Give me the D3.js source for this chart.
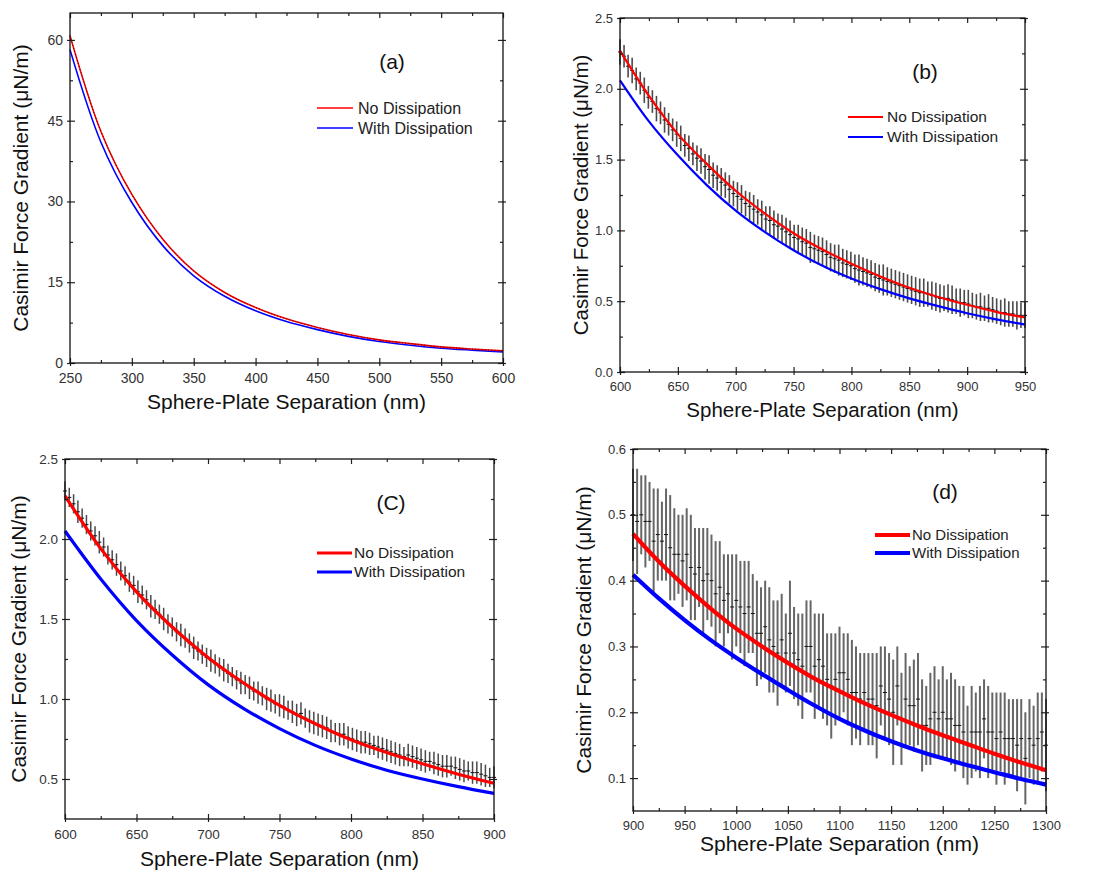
<!DOCTYPE html>
<meta charset="utf-8">
<title>Casimir Force Gradient</title>
<style>
body { margin: 0; background: #fff; }
text { font-family: "Liberation Sans", Arial, sans-serif; }
</style>
<svg width="1103" height="872"></svg>
<script src="https://d3js.org/d3.v7.min.js"></script>
<script>
// ---- data ----
// theory curves, one value every 25 nm
var sepA = [250, 275, 300, 325, 350, 375, 400, 425, 450, 475, 500, 525, 550, 575, 600];
var noDissA = [60.8, 43.0, 31.3, 23.0, 17.1, 13.1, 10.3, 8.2, 6.6, 5.3, 4.3, 3.6, 3.0, 2.6, 2.27];
var withDissA = [58.2, 41.0, 29.8, 21.8, 16.2, 12.4, 9.7, 7.7, 6.2, 4.95, 4.0, 3.3, 2.75, 2.38, 2.06];

var sepB = [600, 625, 650, 675, 700, 725, 750, 775, 800, 825, 850, 875, 900, 925, 950];
var noDissB = [2.27, 1.95, 1.68, 1.47, 1.28, 1.12, 0.98, 0.865, 0.765, 0.675, 0.595, 0.53, 0.475, 0.425, 0.385];
var withDissB = [2.06, 1.77, 1.53, 1.32, 1.14, 0.99, 0.86, 0.75, 0.66, 0.585, 0.52, 0.465, 0.415, 0.372, 0.335];

var sepC = [600, 625, 650, 675, 700, 725, 750, 775, 800, 825, 850, 875, 900];
var noDissC = [2.27, 1.94, 1.67, 1.45, 1.26, 1.10, 0.96, 0.845, 0.745, 0.665, 0.595, 0.53, 0.473];
var withDissC = [2.05, 1.75, 1.49, 1.275, 1.09, 0.94, 0.815, 0.71, 0.625, 0.555, 0.50, 0.452, 0.41];

var sepD = [900, 925, 950, 975, 1000, 1025, 1050, 1075, 1100, 1125, 1150, 1175, 1200, 1225, 1250, 1275, 1300];
var noDissD = [0.471, 0.429, 0.392, 0.358, 0.327, 0.300, 0.275, 0.252, 0.232, 0.213, 0.196, 0.180, 0.165, 0.151, 0.137, 0.124, 0.112];
var withDissD = [0.409, 0.373, 0.340, 0.310, 0.283, 0.258, 0.234, 0.211, 0.190, 0.172, 0.156, 0.142, 0.130, 0.119, 0.109, 0.099, 0.090];

// measured points with error bars (b: every 3.5 nm from 600, c: every 3 nm from 600, d: every 4 nm from 900)
var measB = [2.26,2.23,2.16,2.13,2.07, 2.04,1.99,1.94,1.91,1.86, 1.83,1.78,1.75,1.71,1.68, 1.65,1.60,1.58,1.54,1.51,
  1.49,1.45,1.43,1.39,1.37, 1.34,1.32,1.29,1.26,1.24, 1.22,1.19,1.17,1.15,1.13, 1.11,1.08,1.07,1.04,1.03,
  1.01,0.99,0.97,0.95,0.94, 0.92,0.91,0.88,0.87,0.86, 0.85,0.83,0.81,0.80,0.79, 0.77,0.76,0.75,0.73,0.72,
  0.71,0.70,0.69,0.67,0.66, 0.65,0.64,0.63,0.62,0.61, 0.60,0.59,0.58,0.57,0.56, 0.56,0.55,0.54,0.53,0.52,
  0.52,0.52,0.51,0.50,0.49, 0.49,0.48,0.47,0.46,0.46, 0.45,0.45,0.44,0.43,0.42, 0.42,0.41,0.41,0.40,0.40, 0.40];
var errB = [0.09,0.08,0.08,0.09,0.08,0.08,0.09,0.08,0.08,0.09,0.08,0.09,0.08,0.08,0.09,0.09,0.08,0.09,0.08,0.09,
  0.09,0.09,0.1,0.09,0.09,0.1,0.09,0.1,0.09,0.1,0.1,0.09,0.1,0.1,0.09,0.1,0.09,0.1,0.1,0.09,
  0.1,0.1,0.1,0.09,0.1,0.1,0.1,0.11,0.1,0.1,0.1,0.1,0.1,0.1,0.11,0.1,0.1,0.1,0.1,0.11,
  0.1,0.1,0.1,0.1,0.1,0.11,0.1,0.1,0.1,0.1,0.1,0.1,0.1,0.1,0.1,0.1,0.09,0.1,0.1,0.1,
  0.09,0.1,0.1,0.09,0.1,0.09,0.1,0.09,0.09,0.1,0.09,0.1,0.09,0.09,0.09,0.1,0.09,0.09,0.1,0.09,0.09];

var measC = [2.30,2.26,2.22,2.17,2.13, 2.09,2.05,2.02,1.98,1.95, 1.90,1.87,1.84,1.80,1.77, 1.73,1.71,1.67,1.65,1.62,
  1.58,1.56,1.53,1.50,1.47, 1.45,1.42,1.40,1.38,1.35, 1.32,1.30,1.28,1.26,1.24, 1.22,1.20,1.18,1.16,1.14,
  1.12,1.10,1.09,1.07,1.05, 1.04,1.02,1.00,0.99,0.97, 0.96,0.95,0.93,0.92,0.90, 0.91,0.88,0.86,0.85,0.84,
  0.83,0.82,0.80,0.79,0.78, 0.78,0.76,0.75,0.74,0.73, 0.73,0.72,0.71,0.70,0.69, 0.68,0.67,0.66,0.65,0.64,
  0.65,0.64,0.63,0.62,0.61, 0.61,0.60,0.59,0.58,0.58, 0.58,0.57,0.56,0.55,0.55, 0.54,0.54,0.53,0.52,0.51, 0.51];
var errC = [0.06,0.06,0.06,0.07,0.06,0.06,0.06,0.06,0.07,0.06,0.06,0.06,0.07,0.06,0.06,0.06,0.06,0.07,0.06,0.06,
  0.07,0.06,0.06,0.07,0.06,0.06,0.06,0.07,0.06,0.06,0.07,0.06,0.06,0.06,0.07,0.06,0.06,0.07,0.06,0.06,
  0.06,0.07,0.06,0.07,0.06,0.07,0.06,0.07,0.07,0.06,0.07,0.07,0.06,0.07,0.07,0.07,0.06,0.07,0.07,0.07,
  0.07,0.07,0.07,0.06,0.07,0.07,0.07,0.07,0.07,0.07,0.07,0.07,0.06,0.07,0.07,0.07,0.07,0.07,0.07,0.06,
  0.07,0.07,0.07,0.07,0.07,0.06,0.07,0.07,0.07,0.07,0.06,0.07,0.07,0.07,0.06,0.07,0.07,0.07,0.07,0.06,0.07];

var measD = [0.50,0.49,0.50,0.49,0.49, 0.46,0.47,0.46,0.47,0.45, 0.44,0.44,0.43,0.44,0.42, 0.41,0.42,0.40,0.41,0.40,
  0.38,0.39,0.37,0.38,0.36, 0.37,0.36,0.35,0.36,0.35, 0.32,0.32,0.33,0.31,0.30, 0.29,0.31,0.29,0.32,0.29,
  0.28,0.27,0.30,0.30,0.27, 0.28,0.27,0.25,0.24,0.25, 0.26,0.26,0.25,0.23,0.23, 0.22,0.23,0.22,0.22,0.21,
  0.24,0.23,0.22,0.20,0.24, 0.19,0.22,0.21,0.21,0.22, 0.18,0.18,0.19,0.20,0.19, 0.20,0.19,0.19,0.18,0.18,
  0.17,0.15,0.17,0.17,0.17, 0.19,0.17,0.17,0.16,0.17, 0.16,0.16,0.16,0.15,0.16, 0.13,0.16,0.15,0.16,0.17, 0.15];
var errD = [0.07,0.08,0.06,0.07,0.06,0.08,0.07,0.06,0.07,0.08,0.07,0.06,0.07,0.07,0.08,0.07,0.06,0.08,0.07,0.07,
  0.08,0.07,0.07,0.06,0.08,0.07,0.07,0.08,0.07,0.06,0.08,0.07,0.07,0.08,0.07,0.08,0.07,0.06,0.08,0.07,
  0.07,0.08,0.07,0.07,0.08,0.07,0.08,0.07,0.08,0.07,0.07,0.06,0.07,0.08,0.07,0.07,0.06,0.07,0.07,0.08,
  0.06,0.07,0.07,0.08,0.06,0.07,0.07,0.06,0.07,0.07,0.07,0.06,0.07,0.07,0.06,0.07,0.06,0.07,0.07,0.06,
  0.07,0.06,0.07,0.06,0.07,0.06,0.07,0.06,0.07,0.06,0.07,0.06,0.06,0.07,0.06,0.07,0.06,0.06,0.07,0.06,0.07];

var legendNames = ["No Dissipation", "With Dissipation"];
var xTitle = "Sphere-Plate Separation (nm)";
var yTitle = "Casimir Force Gradient (\u03bcN/m)";

var svg = d3.select("svg");
var fmt1 = d3.format(".1f");

var panels = [
  { tag: "(a)", box: [70, 503, 13, 363], xd: [250, 600], yd: [0, 65],
    xt: d3.range(250, 601, 50), xm: d3.range(275, 600, 50), yt: [0, 15, 30, 45, 60], ym: [7.5, 22.5, 37.5, 52.5],
    yf: d3.format("d"), sep: sepA, red: noDissA, blue: withDissA, dotted: true,
    lw: 1.6, tickFont: 14, titleFont: 21, yTitleX: 21, xTitleY: 409, tagPos: [392, 69],
    leg: [317, 353, 108, 128, 358, 16] },
  { tag: "(b)", box: [620, 1025, 18, 372], xd: [600, 950], yd: [0, 2.5],
    xt: d3.range(600, 951, 50), xm: d3.range(625, 950, 50), yt: [0, 0.5, 1, 1.5, 2, 2.5], ym: [0.25, 0.75, 1.25, 1.75, 2.25],
    yf: fmt1, sep: sepB, red: noDissB, blue: withDissB, bx0: 600, bstep: 3.5, meas: measB, err: errB,
    barColor: "#4a4a4a", barW: 1.6, lw: 2.2, tickFont: 13, titleFont: 20.5, yTitleX: 581, xTitleY: 417, tagPos: [925, 79],
    leg: [848, 883, 117, 137, 887, 15.5] },
  { tag: "(C)", box: [65, 494, 459, 819], xd: [600, 900], yd: [0.25, 2.5],
    xt: d3.range(600, 901, 50), xm: d3.range(625, 900, 50), yt: [0.5, 1, 1.5, 2, 2.5], ym: [0.75, 1.25, 1.75, 2.25],
    yf: fmt1, sep: sepC, red: noDissC, blue: withDissC, bx0: 600, bstep: 3, meas: measC, err: errC,
    barColor: "#4a4a4a", barW: 1.5, lw: 3.2, tickFont: 13.5, titleFont: 21, yTitleX: 19, xTitleY: 866, tagPos: [391, 510],
    leg: [317, 352, 553, 572, 354, 15.5] },
  { tag: "(d)", box: [633, 1046, 449, 811], xd: [900, 1300], yd: [0.05, 0.6],
    xt: d3.range(900, 1301, 50), xm: d3.range(925, 1300, 50), yt: [0.1, 0.2, 0.3, 0.4, 0.5, 0.6], ym: [0.15, 0.25, 0.35, 0.45, 0.55],
    yf: fmt1, sep: sepD, red: noDissD, blue: withDissD, bx0: 900, bstep: 4, meas: measD, err: errD,
    barColor: "#666", barW: 2, lw: 4.2, tickFont: 13, titleFont: 21, yTitleX: 584, xTitleY: 851, tagPos: [945, 499],
    leg: [875, 910, 535, 553, 912, 15] }
];

panels.forEach(drawPanel);

function drawPanel(p) {
  var L = p.box[0], R = p.box[1], T = p.box[2], B = p.box[3];
  var g = svg.append("g");
  var x = d3.scaleLinear().domain(p.xd).range([L, R]);
  var y = d3.scaleLinear().domain(p.yd).range([B, T]);

  // error bars of the measurement
  if (p.meas) {
    var pts = p.meas.map(function(v, i) { return { x: p.bx0 + p.bstep * i, v: v, e: p.err[i] }; });
    g.append("g").selectAll("line").data(pts).enter().append("line")
      .attr("x1", function(d) { return x(d.x); })
      .attr("x2", function(d) { return x(d.x); })
      .attr("y1", function(d) { return y(d.v - d.e); })
      .attr("y2", function(d) { return y(d.v + d.e); })
      .attr("stroke", p.barColor)
      .attr("stroke-width", p.barW);
    g.append("g").selectAll("line").data(pts).enter().append("line")
      .attr("x1", function(d) { return x(d.x) - 2; })
      .attr("x2", function(d) { return x(d.x) + 2; })
      .attr("y1", function(d) { return y(d.v); })
      .attr("y2", function(d) { return y(d.v); })
      .attr("stroke", "#111")
      .attr("stroke-width", 1);
  }

  var line = d3.line()
    .x(function(d) { return x(d[0]); })
    .y(function(d) { return y(d[1]); })
    .curve(d3.curveCatmullRom.alpha(0.5));

  g.append("path").datum(d3.zip(p.sep, p.blue))
    .attr("d", line).attr("fill", "none").attr("stroke", "#0000ff").attr("stroke-width", p.lw);
  g.append("path").datum(d3.zip(p.sep, p.red))
    .attr("d", line).attr("fill", "none").attr("stroke", "#ff0000").attr("stroke-width", p.lw);
  if (p.dotted) {
    g.append("path").datum(d3.zip(p.sep, p.red))
      .attr("d", line).attr("fill", "none").attr("stroke", "#000")
      .attr("stroke-width", 0.9).attr("stroke-dasharray", "1,2.2").attr("opacity", 0.8);
  }

  // axes: major ticks cross the frame, minor ticks point inwards
  function clean(sel) { sel.select(".domain").remove(); }
  g.append("g").attr("transform", "translate(0," + B + ")")
    .call(d3.axisBottom(x).tickValues(p.xt).tickSizeInner(-5).tickSizeOuter(0).tickPadding(10).tickFormat(d3.format("d")))
    .call(clean);
  g.append("g").attr("transform", "translate(0," + B + ")")
    .call(d3.axisBottom(x).tickValues(p.xt).tickSize(3).tickFormat("")).call(clean);
  g.append("g").attr("transform", "translate(0," + B + ")")
    .call(d3.axisBottom(x).tickValues(p.xm).tickSize(-3).tickFormat("")).call(clean);
  g.append("g").attr("transform", "translate(0," + T + ")")
    .call(d3.axisTop(x).tickValues(p.xt).tickSizeInner(-5).tickSizeOuter(0).tickFormat("")).call(clean);
  g.append("g").attr("transform", "translate(0," + T + ")")
    .call(d3.axisTop(x).tickValues(p.xm).tickSize(-3).tickFormat("")).call(clean);

  g.append("g").attr("transform", "translate(" + L + ",0)")
    .call(d3.axisLeft(y).tickValues(p.yt).tickSizeInner(-5).tickSizeOuter(0).tickPadding(7).tickFormat(p.yf))
    .call(clean);
  g.append("g").attr("transform", "translate(" + L + ",0)")
    .call(d3.axisLeft(y).tickValues(p.yt).tickSize(3).tickFormat("")).call(clean);
  g.append("g").attr("transform", "translate(" + L + ",0)")
    .call(d3.axisLeft(y).tickValues(p.ym).tickSize(-3).tickFormat("")).call(clean);
  g.append("g").attr("transform", "translate(" + R + ",0)")
    .call(d3.axisRight(y).tickValues(p.yt).tickSizeInner(-5).tickSizeOuter(0).tickFormat("")).call(clean);
  g.append("g").attr("transform", "translate(" + R + ",0)")
    .call(d3.axisRight(y).tickValues(p.yt).tickSize(3).tickFormat("")).call(clean);
  g.append("g").attr("transform", "translate(" + R + ",0)")
    .call(d3.axisRight(y).tickValues(p.ym).tickSize(-3).tickFormat("")).call(clean);

  g.selectAll(".tick line").attr("stroke", "#222").attr("stroke-width", 1.2);
  g.selectAll(".tick text")
    .attr("fill", "#333")
    .style("font-size", p.tickFont + "px")
    .style("font-family", "'Liberation Sans', Arial, sans-serif");

  // frame
  g.append("rect")
    .attr("x", L).attr("y", T).attr("width", R - L).attr("height", B - T)
    .attr("fill", "none").attr("stroke", "#111").attr("stroke-width", 1.3);

  // titles
  g.append("text")
    .attr("x", (L + R) / 2).attr("y", p.xTitleY)
    .attr("text-anchor", "middle")
    .style("font-size", p.titleFont + "px").attr("fill", "#111")
    .text(xTitle);
  g.append("text")
    .attr("transform", "translate(" + p.yTitleX + "," + (T + B) / 2 + ") rotate(-90)")
    .attr("text-anchor", "middle")
    .attr("dy", "0.35em")
    .style("font-size", p.titleFont + "px").attr("fill", "#111")
    .text(yTitle);

  g.append("text")
    .attr("x", p.tagPos[0]).attr("y", p.tagPos[1])
    .attr("text-anchor", "middle")
    .style("font-size", "21px").attr("fill", "#111")
    .text(p.tag);

  // legend
  var lg = p.leg;
  var colors = ["#ff0000", "#0000ff"];
  legendNames.forEach(function(name, i) {
    var ly = i === 0 ? lg[2] : lg[3];
    g.append("line")
      .attr("x1", lg[0]).attr("x2", lg[1]).attr("y1", ly).attr("y2", ly)
      .attr("stroke", colors[i]).attr("stroke-width", p.lw);
    g.append("text")
      .attr("x", lg[4]).attr("y", ly).attr("dy", "0.35em")
      .style("font-size", lg[5] + "px").attr("fill", "#222")
      .text(name);
  });
}
</script>
